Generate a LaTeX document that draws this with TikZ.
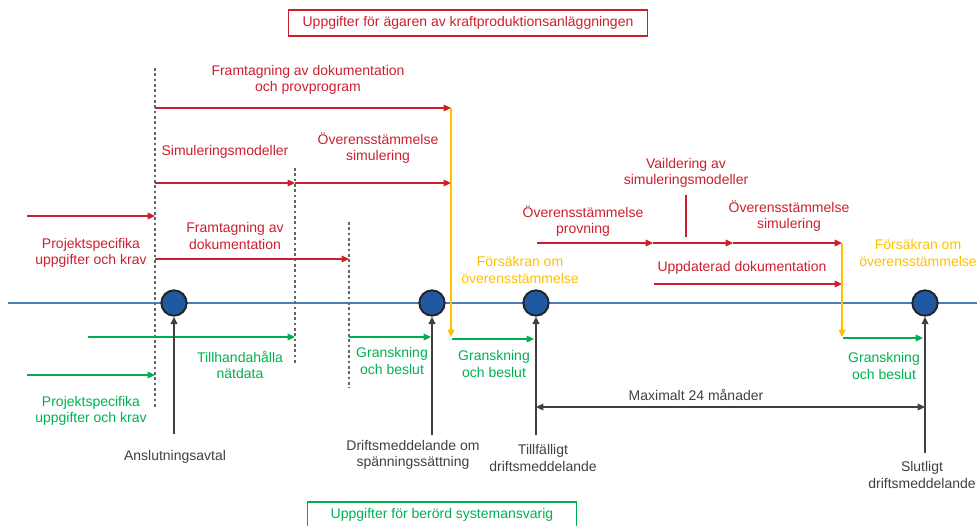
\documentclass[tikz,border=0pt]{standalone}
\usepackage{fontspec}
\setmainfont{Liberation Sans}
\usetikzlibrary{arrows.meta}

\definecolor{ownerred}{HTML}{CC1F2D}
\definecolor{tsogreen}{HTML}{00B050}
\definecolor{declyellow}{HTML}{FFC000}
\definecolor{axisblue}{HTML}{4A7EBB}
\definecolor{milefill}{HTML}{1F58A3}
\definecolor{darkgray}{HTML}{404040}

\tikzset{
  lbl/.style={align=center, inner sep=0pt, font=\fontsize{10.5}{12.5}\selectfont},
  ownertext/.style={lbl, text=ownerred},
  tsotext/.style={lbl, text=tsogreen},
  decltext/.style={lbl, text=declyellow},
  eventtext/.style={lbl, text=darkgray},
  tip/.style={-{Triangle[length=5.5pt,width=5pt]}},
  ownerarrow/.style={tip, draw=ownerred, fill=ownerred, line width=0.9pt},
  tsoarrow/.style={tip, draw=tsogreen, fill=tsogreen, line width=0.9pt},
  declarrow/.style={tip, draw=declyellow, fill=declyellow, line width=1pt},
  eventarrow/.style={tip, draw=darkgray, fill=darkgray, line width=1pt},
  phase/.style={draw=darkgray!80, dashed, dash pattern=on 2pt off 2pt, line width=0.8pt},
  milestone/.style={circle, fill=milefill, draw=black!85, line width=1.5pt, minimum size=19pt, inner sep=0pt},
  legendbox/.style={lbl, draw, line width=0.8pt, minimum height=19.5pt}
}

\begin{document}
\begin{tikzpicture}[x=0.75pt, y=-0.75pt]
  \useasboundingbox (0,0) rectangle (977,525);

  \node[legendbox, draw=ownerred, text=ownerred, minimum width=269pt] (ownerbox) at (468,23) {Uppgifter för ägaren av kraftproduktionsanläggningen};
  \node[legendbox, draw=tsogreen, text=tsogreen, minimum width=202pt] (tsobox) at (442,515) {Uppgifter för berörd systemansvarig};

  \coordinate (axisL) at (8,303);
  \coordinate (axisR) at (977,303);
  \draw[axisblue, line width=1.2pt] (axisL) -- (axisR);

  \coordinate (ph1t) at (155,68);  \coordinate (ph1b) at (155,408);
  \coordinate (ph2t) at (295,168); \coordinate (ph2b) at (295,363);
  \coordinate (ph3t) at (349,222); \coordinate (ph3b) at (349,388);
  \draw[phase] (ph1t) -- (ph1b);
  \draw[phase] (ph2t) -- (ph2b);
  \draw[phase] (ph3t) -- (ph3b);

  \node[milestone] (ms1) at (174,303) {};
  \node[milestone] (ms2) at (432,303) {};
  \node[milestone] (ms3) at (536,303) {};
  \node[milestone] (ms4) at (925,303) {};

  \node[ownertext] (dokprov) at (308,80) {Framtagning av dokumentation\\och provprogram};
  \node[ownertext] (simmod) at (225,152) {Simuleringsmodeller};
  \node[ownertext] (oversimA) at (378,148) {Överensstämmelse\\simulering};
  \node[ownertext] (projred) at (91,253) {Projektspecifika\\uppgifter och krav};
  \node[ownertext] (dokA) at (235,236) {Framtagning av\\dokumentation};
  \node[ownertext] (provn) at (583,221) {Överensstämmelse\\provning};
  \node[ownertext] (valid) at (686,173) {Vaildering av\\simuleringsmodeller};
  \node[ownertext] (oversimB) at (789,216) {Överensstämmelse\\simulering};
  \node[ownertext] (uppdok) at (742,268) {Uppdaterad dokumentation};

  \node[decltext] (forsA) at (520,270) {Försäkran om\\överensstämmelse};
  \node[decltext] (forsB) at (918,253) {Försäkran om\\överensstämmelse};

  \node[tsotext] (natdata) at (240,365) {Tillhandahålla\\nätdata};
  \node[tsotext] (projgreen) at (91,411) {Projektspecifika\\uppgifter och krav};
  \node[tsotext] (gransA) at (392,361) {Granskning\\och beslut};
  \node[tsotext] (gransB) at (494,364) {Granskning\\och beslut};
  \node[tsotext] (gransC) at (884,366) {Granskning\\och beslut};

  \node[eventtext] (anslut) at (175,457) {Anslutningsavtal};
  \node[eventtext] (driftspann) at (413,455) {Driftsmeddelande om\\spänningssättning};
  \node[eventtext] (tillf) at (543,458) {Tillfälligt\\driftsmeddelande};
  \node[eventtext] (slut) at (922,475) {Slutligt\\driftsmeddelande};
  \node[eventtext] (maxtid) at (696,395) {Maximalt 24 månader};

  % red flows
  \coordinate (r1s) at (155,108); \coordinate (r1e) at (451,108);
  \coordinate (r2s) at (155,183); \coordinate (r2m) at (295,183); \coordinate (r2e) at (451,183);
  \coordinate (r3s) at (27,216);  \coordinate (r3e) at (155,216);
  \coordinate (r4s) at (155,259); \coordinate (r4e) at (349,259);
  \coordinate (r5s) at (537,243); \coordinate (r5a) at (653,243); \coordinate (r5b) at (733,243); \coordinate (r5e) at (842,243);
  \coordinate (r6s) at (654,284); \coordinate (r6e) at (842,284);
  \coordinate (vt) at (686,195); \coordinate (vb) at (686,237);
  \draw[ownerarrow] (r1s) -- (r1e);
  \draw[ownerarrow] (r2s) -- (r2m);
  \draw[ownerarrow] (r2m) -- (r2e);
  \draw[ownerarrow] (r3s) -- (r3e);
  \draw[ownerarrow] (r4s) -- (r4e);
  \draw[ownerarrow] (r5s) -- (r5a);
  \draw[ownerarrow] (r5a) -- (r5b);
  \draw[ownerarrow] (r5b) -- (r5e);
  \draw[ownerarrow] (r6s) -- (r6e);
  \draw[ownerred, line width=0.9pt] (vt) -- (vb);

  % declarations
  \coordinate (y1e) at (451,337);
  \coordinate (y2e) at (842,337);
  \draw[declarrow] (r1e) -- (y1e);
  \draw[declarrow] (r5e) -- (y2e);

  % green flows
  \coordinate (g1s) at (88,337);  \coordinate (g1e) at (295,337);
  \coordinate (g2s) at (27,375);  \coordinate (g2e) at (155,375);
  \coordinate (g3s) at (349,337); \coordinate (g3e) at (431,337);
  \coordinate (g4s) at (452,339); \coordinate (g4e) at (534,339);
  \coordinate (g5s) at (843,338); \coordinate (g5e) at (923,338);
  \draw[tsoarrow] (g1s) -- (g1e);
  \draw[tsoarrow] (g2s) -- (g2e);
  \draw[tsoarrow] (g3s) -- (g3e);
  \draw[tsoarrow] (g4s) -- (g4e);
  \draw[tsoarrow] (g5s) -- (g5e);

  % events
  \coordinate (e1) at (174,434);
  \coordinate (e2) at (432,435);
  \coordinate (e3) at (536,435);
  \coordinate (e4) at (925,453);
  \draw[eventarrow] (e1) -- (ms1.south);
  \draw[eventarrow] (e2) -- (ms2.south);
  \draw[eventarrow] (e3) -- (ms3.south);
  \draw[eventarrow] (e4) -- (ms4.south);
  \coordinate (mxs) at (536,407);
  \coordinate (mxe) at (925,407);
  \draw[eventarrow, {Triangle[length=5.5pt,width=5pt]}-{Triangle[length=5.5pt,width=5pt]}, line width=0.8pt] (mxs) -- (mxe);
\end{tikzpicture}
\end{document}
